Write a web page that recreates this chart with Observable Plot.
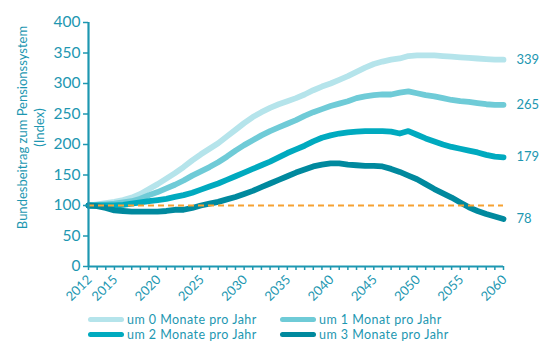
<!DOCTYPE html>
<html><head><meta charset="utf-8">
<script src="https://cdn.jsdelivr.net/npm/d3@7"></script>
<script src="https://cdn.jsdelivr.net/npm/@observablehq/plot@0.6"></script>
<style>
body{margin:0;background:#fff;font-family:Lato,sans-serif;}
#wrap{position:relative;width:550px;height:359px;overflow:hidden;}
#legend{position:absolute;left:88px;top:312px;display:grid;grid-template-columns:192px 200px;font-size:12.5px;letter-spacing:0.45px;color:#1d97b1;line-height:15px;}
.item{display:flex;align-items:center;height:15px;}
.sw{width:36px;height:5px;border-radius:3px;margin-right:3px;}
</style></head><body>
<div id="wrap"><div id="chart"></div><div id="legend"></div></div>
<script>
const seriesNames = ["um 0 Monate pro Jahr","um 1 Monat pro Jahr","um 2 Monate pro Jahr","um 3 Monate pro Jahr"];
const seriesColors = ["#b5e4eb","#6fcbd7","#00aabf","#00899e"];
const startYear = 2012;
const s0 = [100,102,104,106,109,113,119,127,135,144,153,163,174,184,193,202,213,224,235,245,253,260,266,271,276,282,289,295,300,306,312,319,326,332,336,339,341,345,346,346,346,345,344,343,342,341,340,339,339];
const s1 = [100,101,102,103,105,107,111,117,122,128,134,141,149,156,163,171,180,190,199,207,215,222,228,234,240,247,253,258,263,267,271,276,279,281,282,282,285,287,284,281,279,276,273,271,270,268,266,265,265];
const s2 = [100,100,100,100,101,103,105,107,109,111,114,117,121,126,131,136,142,148,154,160,166,172,179,186,192,198,205,211,215,218,220,221,222,222,222,221,218,222,216,210,205,200,196,193,190,187,183,180,179];
const s3 = [100,99,96,92,91,90,90,90,90,91,93,93,96,100,103,106,110,114,119,124,130,136,142,148,154,159,164,167,169,169,167,166,165,165,164,160,155,149,143,135,127,120,113,105,97,91,86,82,78];
const endLabels = [339,265,179,78];
const yTicks = [0,50,100,150,200,250,300,350,400];
const xLabelYears = [2012,2015,2020,2025,2030,2035,2040,2045,2050,2055,2060];
const refValue = 100;
const yLabel = "Bundesbeitrag zum Pensionssystem\n(Index)";

const allSeries = [s0,s1,s2,s3];
const years = s0.map((_, j) => startYear + j);
const data = [];
allSeries.forEach((s,i)=> s.forEach((v,j)=> data.push({year: years[j], value: v, series: seriesNames[i]})));

const teal = "#1d97b1";
const chart = Plot.plot({
  width: 550, height: 305,
  marginLeft: 88, marginRight: 47, marginTop: 22, marginBottom: 39,
  x: {domain: [2012, 2060]},
  y: {domain: [0, 400]},
  color: {domain: seriesNames, range: seriesColors},
  style: {fontFamily: "Lato", color: teal, background: "white", overflow: "visible"},
  marks: [
    Plot.line(data, {x: "year", y: "value", z: "series", stroke: "series", strokeWidth: 5.8, strokeLinecap: "round", strokeLinejoin: "round"}),
    Plot.ruleY([refValue], {x1: 2012, x2: 2060, stroke: "#f6a232", strokeWidth: 2, strokeDasharray: "6,4"}),
    Plot.axisY({ticks: yTicks, tickSize: 5, tickPadding: 3, fontSize: 15.5, stroke: teal, strokeWidth: 1.5, fill: teal, label: null}),
    Plot.axisX({ticks: years, tickSize: 4, tickFormat: () => "", stroke: teal, strokeWidth: 1.5, label: null}),
    Plot.ruleX([2012], {stroke: teal, strokeWidth: 2.2}),
    Plot.ruleY([0], {stroke: teal, strokeWidth: 2.2}),
    Plot.text(xLabelYears, {x: d => d, text: d => String(d), frameAnchor: "bottom", rotate: -45, textAnchor: "end", dy: 14, dx: 4, fontSize: 13, fill: teal}),
    Plot.text(endLabels, {x: 2060, y: d => d, text: d => String(d), textAnchor: "start", dx: 13, fontSize: 13, fill: teal}),
    Plot.text([yLabel], {frameAnchor: "left", textAnchor: "middle", rotate: -90, dx: -58, dy: -17, fontSize: 13, lineHeight: 1.3, fill: teal})
  ]
});
document.getElementById("chart").appendChild(chart);

const legend = document.getElementById("legend");
seriesNames.forEach((name, i) => {
  const it = document.createElement("div");
  it.className = "item";
  const sw = document.createElement("span");
  sw.className = "sw";
  sw.style.background = seriesColors[i];
  const tx = document.createElement("span");
  tx.textContent = name;
  it.appendChild(sw); it.appendChild(tx);
  legend.appendChild(it);
});
</script>
</body></html>
